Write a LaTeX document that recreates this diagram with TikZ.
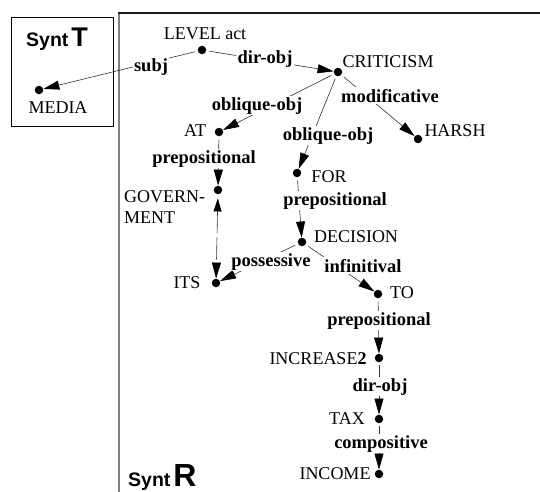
\documentclass[tikz,border=0pt]{standalone}
\usepackage{fontspec}
\setmainfont{Liberation Serif}
\setsansfont{Liberation Sans}
\usetikzlibrary{arrows.meta}

\begin{document}
\begin{tikzpicture}[x=1pt,y=-1pt,
  dot/.style={circle,fill=black,inner sep=0pt,minimum size=8.5pt},
  word/.style={font=\fontsize{18}{21}\selectfont,inner sep=0pt,anchor=base},
  rel/.style={font=\fontsize{18.5}{21}\selectfont\bfseries,inner sep=1.5pt,fill=white,anchor=base},
  dep/.style={draw=black!80,line width=0.6pt,shorten <=3pt,
    -{Triangle[length=16pt,width=9pt,color=black]}},
  coref/.style={draw=black!80,line width=0.6pt,dash pattern=on 22pt off 4pt,
    {Triangle[length=13pt,width=8pt,color=black]}-{Triangle[length=16pt,width=9pt,color=black]},
    shorten <=4pt},
  tag/.style={font=\sffamily\bfseries\fontsize{19.5}{22}\selectfont,inner sep=0pt,
    text depth=0pt,anchor=base west},
]
\useasboundingbox (0,0) rectangle (540,491);

% frames of the two structures
\draw[line width=0.9pt] (11,17) rectangle (113,126);
\draw[black!50,line width=2pt] (119,13) -- (119,495);
\draw[black!90,line width=1.2pt] (118,13) -- (542,13);

% structure titles
\node[tag] (tT) at (26,46) {Synt\hspace{3pt}{\fontsize{27}{27}\selectfont T}};
\node[tag] (tR) at (128,486) {Synt\hspace{3pt}{\fontsize{32}{32}\selectfont R}};

% tree nodes
\node[dot] (level)  at (202,50)  {};
\node[dot] (media)  at (39,90)   {};
\node[dot] (crit)   at (338,72)  {};
\node[dot] (at)     at (219,132) {};
\node[dot] (harsh)  at (418,139) {};
\node[dot] (for)    at (297,173) {};
\node[dot] (gov)    at (218,190) {};
\node[dot] (dec)    at (302,242) {};
\node[dot] (its)    at (216,283) {};
\node[dot] (to)     at (378,294) {};
\node[dot] (inc)    at (379,358) {};
\node[dot] (tax)    at (379,419) {};
\node[dot] (income) at (379,474) {};

% node words
\node[word] (wlevel)  at (205,39)  {LEVEL act};
\node[word] (wmedia)  at (58,113)  {MEDIA};
\node[word] (wcrit)   at (388,67)  {CRITICISM};
\node[word] (wat)     at (195,136) {AT};
\node[word] (wharsh)  at (455,136) {HARSH};
\node[word] (wfor)    at (329,182) {FOR};
\node[word,anchor=west,align=left] (wgov) at (124,207.5) {GOVERN-\\MENT};
\node[word] (wdec)    at (356,242) {DECISION};
\node[word] (wits)    at (187,288) {ITS};
\node[word] (wto)     at (402,298) {TO};
\node[word] (winc)    at (318,364) {INCREASE\textbf{2}};
\node[word] (wtax)    at (347,424) {TAX};
\node[word] (wincome) at (335,479) {INCOME};

% dependencies
\draw[dep] (level) -- (media);
\draw[dep] (level) -- (crit);
\draw[dep] (crit) -- (at);
\draw[dep] (crit) -- (for);
\draw[dep] (crit) -- (harsh);
\draw[dep] (at) -- (gov);
\draw[dep] (for) -- (dec);
\draw[dep] (dec) -- (its);
\draw[dep] (dec) -- (to);
\draw[dep] (to) -- (inc);
\draw[dep] (inc) -- (tax);
\draw[dep] (tax) -- (income);
\draw[coref] (gov) -- (its);

% relation names
\node[rel] (rsubj)  at (151,71)  {subj};
\node[rel] (rdobj)  at (265,63)  {dir-obj};
\node[rel] (robl1)  at (257,110) {oblique-obj};
\node[rel] (robl2)  at (328,140) {oblique-obj};
\node[rel] (rmod)   at (390,102) {modificative};
\node[rel] (rprep1) at (204,163) {prepositional};
\node[rel] (rprep2) at (335,205) {prepositional};
\node[rel] (rposs)  at (271,266) {possessive};
\node[rel] (rinf)   at (363,272) {infinitival};
\node[rel] (rprep3) at (379,325) {prepositional};
\node[rel] (rdobj2) at (380,391) {dir-obj};
\node[rel] (rcomp)  at (381,448) {compositive};
\end{tikzpicture}
\end{document}
